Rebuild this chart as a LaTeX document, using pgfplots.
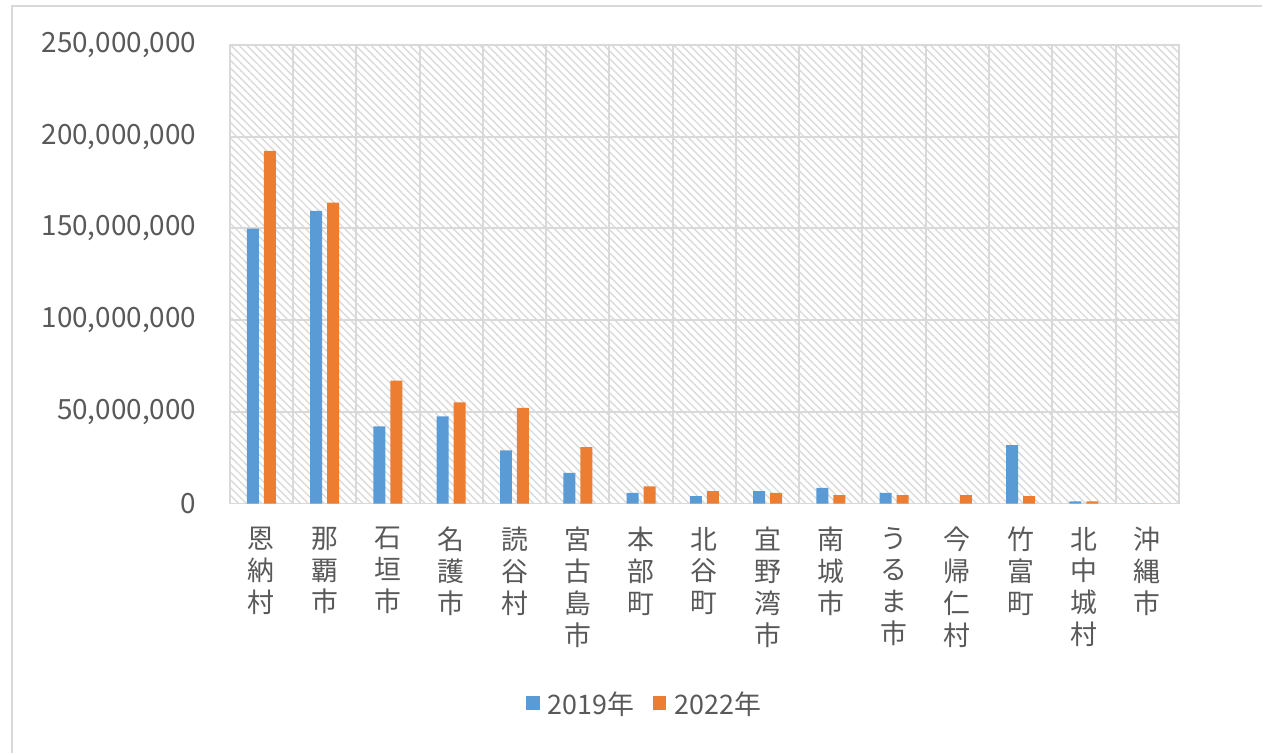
\documentclass[border=0pt]{standalone}
\usepackage{fontspec}
\setmainfont{Noto Sans CJK JP}
\usepackage{pgfplots}
\pgfplotsset{compat=1.18}
\usetikzlibrary{patterns.meta}
\definecolor{xlblue}{RGB}{91,155,213}
\definecolor{xlorange}{RGB}{237,125,49}
\definecolor{xltext}{RGB}{89,89,89}
\definecolor{xlgrid}{RGB}{217,217,217}
\definecolor{xlhatch}{RGB}{218,218,218}
\begin{document}
\begin{tikzpicture}
\path (0bp,0bp) rectangle (1263bp,754bp);
\draw[xlgrid,line width=2.5bp] (12bp,0bp) -- (12bp,748bp) -- (1263bp,748bp);
\begin{axis}[
  at={(230bp,250bp)}, anchor=south west,
  scale only axis, width=950bp, height=459bp,
  ybar=5bp, bar width=12bp,
  xmin=-0.5, xmax=14.5,
  ymin=0, ymax=250000000,
  xtick={0,...,14},
  xticklabels={{恩\\納\\村},{那\\覇\\市},{石\\垣\\市},{名\\護\\市},{読\\谷\\村},{宮\\古\\島\\市},{本\\部\\町},{北\\谷\\町},{宜\\野\\湾\\市},{南\\城\\市},{う\\る\\ま\\市},{今\\帰\\仁\\村},{竹\\富\\町},{北\\中\\城\\村},{沖\\縄\\市}},
  minor xtick={0.5,1.5,...,13.5},
  ytick={0,50000000,100000000,150000000,200000000,250000000},
  scaled y ticks=false,
  major tick length=0pt, minor tick length=0pt,
  xminorgrids=true, ymajorgrids=true,
  grid style={xlgrid,line width=2bp},
  minor grid style={xlgrid,line width=2bp},
  axis line style={xlgrid,line width=2bp},
  axis background/.style={pattern={Lines[angle=-45,distance=5.5bp,line width=1.4bp]},pattern color=xlhatch},
  tick label style={text=xltext},
  x tick label style={font=\fontsize{27}{32}\selectfont,align=center,anchor=north,yshift=-20bp},
  y tick label style={font=\fontsize{28}{32}\selectfont,xshift=-30bp,
    /pgf/number format/.cd,fixed,precision=0,1000 sep={,},assume math mode=true},
  legend style={at={(0.437,-0.438)},anchor=center,draw=none,fill=none,
    font=\fontsize{27}{30}\selectfont,text=xltext,legend columns=2,
    /tikz/every odd column/.append style={column sep=6bp},
    /tikz/every even column/.append style={column sep=16bp}},
  legend image code/.code={\fill[#1] (0bp,-6bp) rectangle (14bp,8bp);},
]
\addplot[fill=xlblue,draw=none] coordinates {
(0,149800000) (1,159600000) (2,42100000) (3,47500000) (4,29000000)
(5,16700000) (6,5800000) (7,4000000) (8,6700000) (9,8500000)
(10,5800000) (11,0) (12,31800000) (13,1200000) (14,0)
};
\addplot[fill=xlorange,draw=none] coordinates {
(0,192300000) (1,164000000) (2,67000000) (3,55200000) (4,52100000)
(5,30700000) (6,9400000) (7,6700000) (8,5800000) (9,4500000)
(10,4500000) (11,4500000) (12,4000000) (13,1200000) (14,0)
};
\legend{2019年,2022年}
\end{axis}
\end{tikzpicture}
\end{document}
